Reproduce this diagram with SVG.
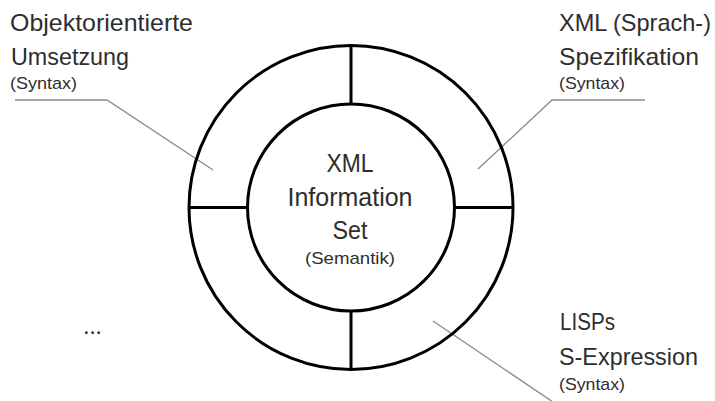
<svg xmlns="http://www.w3.org/2000/svg" width="715" height="401" viewBox="0 0 715 401">
  <style>
    .ring { fill: none; stroke: #000; stroke-width: 3; }
    .divider { stroke: #000; stroke-width: 3; stroke-linecap: butt; }
    .leader { fill: none; stroke: #8a8a8a; stroke-width: 1.3; }
    text { font-family: "Liberation Sans", Arial, sans-serif; fill: #2e2e2e; }
    .big { font-size: 25px; text-anchor: middle; }
    .label { font-size: 24px; }
    .small { font-size: 17px; }
    .smallc { font-size: 17px; text-anchor: middle; }
  </style>

  <rect width="715" height="401" fill="#fff"/>

  <!-- leader lines from the ring segments to their captions -->
  <g id="connectors">
    <polyline class="leader" points="15,100 107,100 213,170"/>
    <polyline class="leader" points="645,100 552,100 478,169"/>
    <line class="leader" x1="433" y1="321" x2="553" y2="402"/>
  </g>

  <!-- outer ring, split into four quadrants -->
  <g id="ring">
    <circle class="ring" cx="351" cy="207.5" r="162"/>
    <line class="divider" x1="351" y1="45.5" x2="351" y2="104"/>
    <line class="divider" x1="351" y1="311" x2="351" y2="369.5"/>
    <line class="divider" x1="189" y1="207.5" x2="247.5" y2="207.5"/>
    <line class="divider" x1="454.5" y1="207.5" x2="513" y2="207.5"/>
  </g>

  <!-- core: XML Information Set -->
  <g id="core">
    <circle class="ring" cx="351" cy="207.5" r="103.5"/>
    <text class="big" x="350" y="171.5" textLength="47" lengthAdjust="spacingAndGlyphs">XML</text>
    <text class="big" x="350" y="206" textLength="125" lengthAdjust="spacingAndGlyphs">Information</text>
    <text class="big" x="350" y="238.5" textLength="35" lengthAdjust="spacingAndGlyphs">Set</text>
    <text class="smallc" x="350" y="264" textLength="90" lengthAdjust="spacingAndGlyphs">(Semantik)</text>
  </g>

  <!-- caption: object-oriented mapping -->
  <g id="objektorientiert">
    <text class="label" x="10" y="31" textLength="183" lengthAdjust="spacingAndGlyphs">Objektorientierte</text>
    <text class="label" x="11" y="64.5" textLength="118" lengthAdjust="spacingAndGlyphs">Umsetzung</text>
    <text class="small" x="10" y="89" textLength="67" lengthAdjust="spacingAndGlyphs">(Syntax)</text>
  </g>

  <!-- caption: XML language specification -->
  <g id="xml-spezifikation">
    <text class="label" x="559" y="31" textLength="152" lengthAdjust="spacingAndGlyphs">XML (Sprach-)</text>
    <text class="label" x="559" y="64.5" textLength="140" lengthAdjust="spacingAndGlyphs">Spezifikation</text>
    <text class="small" x="559" y="88.5" textLength="66" lengthAdjust="spacingAndGlyphs">(Syntax)</text>
  </g>

  <!-- caption: LISP S-expressions -->
  <g id="lisp">
    <text class="label" x="560" y="329.5" textLength="55" lengthAdjust="spacingAndGlyphs">LISPs</text>
    <text class="label" x="559" y="364.5" textLength="139" lengthAdjust="spacingAndGlyphs">S-Expression</text>
    <text class="small" x="559" y="390" textLength="66" lengthAdjust="spacingAndGlyphs">(Syntax)</text>
  </g>

  <!-- further representations -->
  <g id="weitere">
    <text class="label" x="83" y="334" textLength="19">...</text>
  </g>
</svg>
